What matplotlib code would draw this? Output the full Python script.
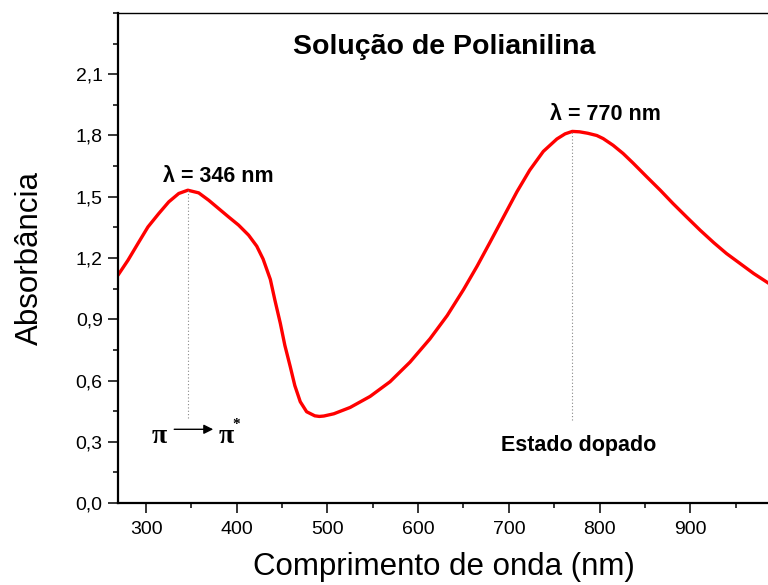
import matplotlib
matplotlib.use("Agg")
import matplotlib.pyplot as plt
from matplotlib.ticker import MultipleLocator, FixedLocator, FuncFormatter

plt.rcParams['font.family'] = ['Liberation Sans', 'DejaVu Sans']

# UV-Vis spectrum of the polyaniline solution
wavelength = [269, 280, 291, 302, 314, 325, 336, 346, 358, 369, 380, 391,
              402, 413, 422, 429, 437, 442, 448, 453, 459, 464, 470, 477,
              486, 491, 496, 507, 525, 547, 569, 591, 613, 632, 650, 665,
              679, 694, 709, 723, 738, 753, 762, 770, 778, 787, 797, 804,
              815, 826, 837, 852, 867, 881, 896, 911, 926, 940, 955, 970,
              988]
absorbance = [1.116, 1.189, 1.271, 1.352, 1.418, 1.475, 1.516, 1.532, 1.519,
              1.483, 1.442, 1.401, 1.361, 1.312, 1.258, 1.195, 1.095, 0.994,
              0.880, 0.772, 0.667, 0.575, 0.496, 0.447, 0.427, 0.424, 0.426,
              0.437, 0.468, 0.522, 0.594, 0.690, 0.804, 0.918, 1.045, 1.160,
              1.275, 1.400, 1.525, 1.630, 1.722, 1.783, 1.808, 1.820, 1.818,
              1.811, 1.800, 1.785, 1.752, 1.712, 1.665, 1.598, 1.532, 1.467,
              1.401, 1.336, 1.275, 1.222, 1.173, 1.124, 1.072]

peak_uv = 346
peak_uv_abs = 1.532
peak_vis = 770
peak_vis_abs = 1.820

y_ticks = [0.0, 0.3, 0.6, 0.9, 1.2, 1.5, 1.8, 2.1]
x_ticks = [300, 400, 500, 600, 700, 800, 900]

fig = plt.figure(figsize=(7.68, 5.85), dpi=100)
ax = fig.add_axes([118 / 768, 82 / 585, 652 / 768, 490 / 585])

ax.plot(wavelength, absorbance, color='#ff0000', lw=2.4,
        solid_joinstyle='round', solid_capstyle='round')

# dotted markers under the two maxima
ax.plot([peak_uv, peak_uv], [0.416, peak_uv_abs], color='#888888', lw=0.8,
        ls=(0, (1, 2)))
ax.plot([peak_vis, peak_vis], [0.406, peak_vis_abs], color='#888888', lw=0.8,
        ls=(0, (1, 2)))

ax.set_xlim(269, 988)
ax.set_ylim(0, 2.4)

ax.xaxis.set_major_locator(FixedLocator(x_ticks))
ax.xaxis.set_minor_locator(MultipleLocator(50))
ax.yaxis.set_major_locator(FixedLocator(y_ticks))
ax.yaxis.set_minor_locator(MultipleLocator(0.15))
ax.yaxis.set_major_formatter(FuncFormatter(lambda v, p: f"{v:.1f}".replace('.', ',')))

ax.tick_params(which='major', direction='out', length=7, width=1.1,
               labelsize=14, pad=4)
ax.tick_params(which='minor', direction='out', length=3.6, width=1.1)
ax.tick_params(axis='x', which='major', pad=6)
ax.tick_params(top=False, right=False, which='both')

for side in ['left', 'bottom']:
    ax.spines[side].set_linewidth(1.6)
ax.spines['top'].set_linewidth(1.0)
ax.spines['right'].set_visible(False)

ax.set_xlabel('Comprimento de onda (nm)', fontsize=22.5, labelpad=10)
ax.set_ylabel('Absorbância', fontsize=22.5, labelpad=22)

ax.text(0.5, 0.93, 'Solução de Polianilina', transform=ax.transAxes,
        ha='center', va='center', fontsize=20.5, fontweight='bold')

ax.text(380, 1.60, 'λ = 346 nm', ha='center', va='center', fontsize=15.5,
        fontweight='bold')
ax.text(807, 1.904, 'λ = 770 nm', ha='center', va='center', fontsize=15.5,
        fontweight='bold')
ax.text(777, 0.28, 'Estado dopado', ha='center', va='center', fontsize=15.5,
        fontweight='bold')

# pi -> pi* transition label
pi_font = ['Liberation Serif', 'DejaVu Serif']
ax.text(314, 0.325, 'π', ha='center', va='center', fontsize=20,
        fontweight='bold', family=pi_font)
ax.text(388, 0.325, 'π', ha='center', va='center', fontsize=20,
        fontweight='bold', family=pi_font)
ax.text(399, 0.385, '*', ha='center', va='center', fontsize=11,
        fontweight='bold', family=pi_font)
ax.annotate('', xy=(374, 0.361), xytext=(331, 0.361),
            arrowprops=dict(arrowstyle='-|>', color='black', lw=1.0,
                            mutation_scale=14, shrinkA=0, shrinkB=0))

fig.savefig('out.png', dpi=100)
